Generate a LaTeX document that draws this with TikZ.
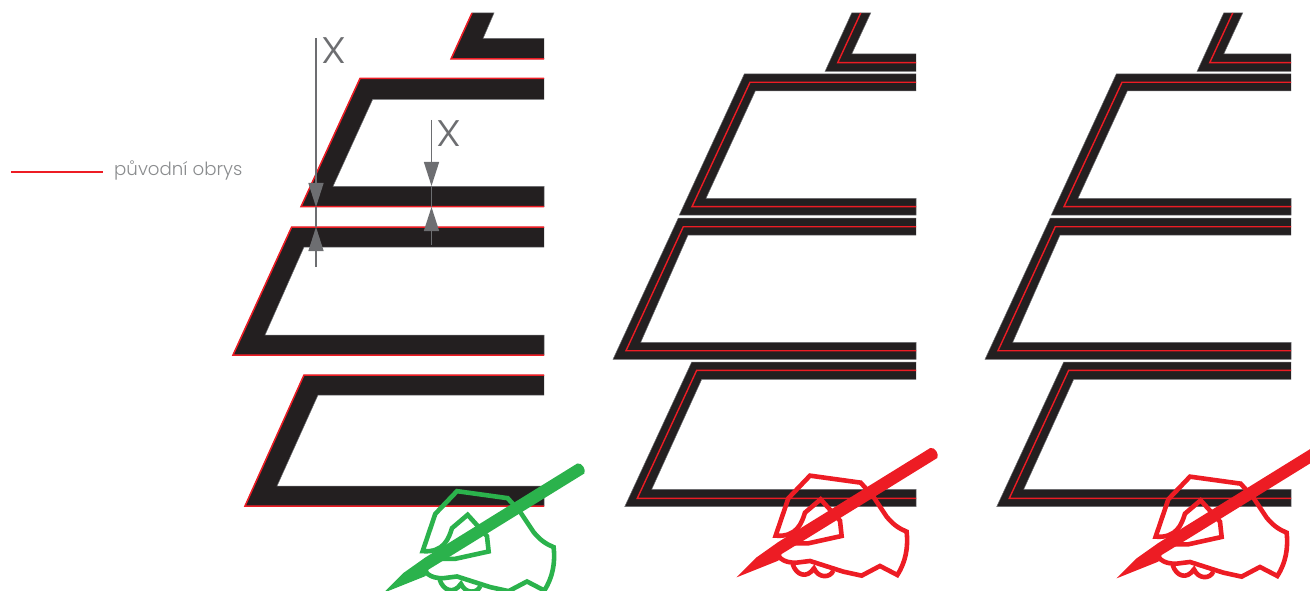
\documentclass[tikz,border=0pt]{standalone}
\usepackage{fontspec}
\setmainfont{Poppins Light}
\usetikzlibrary{arrows.meta}
\definecolor{InkBlack}{HTML}{231F20}
\definecolor{RimRed}{HTML}{ED1C24}
\definecolor{PenGreen}{HTML}{2BB24C}
\definecolor{DimGray}{HTML}{6D6E71}
\definecolor{NoteGray}{HTML}{8A8C8E}
\newcommand{\handpen}[3]{%
\begin{scope}[shift={(#1,#2)},x=.3333pt,y=-.3333pt,color=#3]
\fill (380,742) -- (440,682) -- (505,636) -- (961,354) .. controls (975,351) and (988,372) .. (982,384) -- (600,620) -- (515,672) -- (505,692) -- (440,718) -- cycle;
\draw[line width=4.6pt,line join=miter] (497,617) -- (535,505) -- (600,437) -- (752,458) -- (790,500) -- (830,560) .. controls (850,585) and (870,597) .. (890,605) .. controls (895,650) and (888,695) .. (862,735) -- (810,708) -- (755,737) -- (700,725) -- (600,693) -- (560,698) .. controls (520,700) and (495,680) .. (506,655) .. controls (512,640) and (530,638) .. (545,640) -- (595,640) -- (695,618) -- (690,572) -- (632,508) -- (585,548) .. controls (575,580) and (560,622) .. (497,617) -- cycle;
\draw[line width=4.6pt] (548,702) .. controls (558,735) and (590,748) .. (612,715) .. controls (625,745) and (660,745) .. (670,722);
\end{scope}}
\begin{document}
\begin{tikzpicture}[x=1pt,y=-1pt, bar/.style={fill=InkBlack,draw=DimGray,line width=.5pt}, rim/.style={RimRed,line width=1.5pt}, core/.style={RimRed,line width=1.4pt}, dim/.style={DimGray,line width=1.4pt}, dimtip/.style={dim,-{Triangle[length=24pt,width=15pt]}}, xlabel/.style={DimGray,font=\fontsize{37}{37}\selectfont,inner sep=0pt}]
\clip (0,0) rectangle (1310,591);
\coordinate (notestart) at (11,172);
\node[NoteGray,font=\fontsize{18.2}{20}\selectfont,inner sep=0pt,anchor=base west] (note) at (114,176) {původní obrys};
\draw[RimRed,line width=1.2pt] (notestart) -- (103,172);
\path[bar] (544,38.5) -- (483,38.5) -- (494,13) -- (472,13) -- (451,59) -- (544,59);
\path[bar] (544,99.3) -- (372.7,99.3) -- (333,186.3) -- (544,186.3) -- (544,206.7) -- (301,206.7) -- (360,78.5) -- (544,78.5);
\path[bar] (544,247) -- (304,247) -- (265,335) -- (544,335) -- (544,355) -- (233,355) -- (291.7,227) -- (544,227);
\path[bar] (544,395) -- (318,395) -- (277,486) -- (544,486) -- (544,506) -- (245,506) -- (304,375) -- (544,375);
\draw[rim] (472,13) -- (451,59) -- (544,59);
\draw[rim] (544,78.5) -- (360,78.5) -- (301,206.7) -- (544,206.7);
\draw[rim] (544,227) -- (291.7,227) -- (233,355) -- (544,355);
\draw[rim] (544,375) -- (304,375) -- (245,506) -- (544,506);
\foreach \dx/\xr in {0/916,372/919}{
\begin{scope}[xshift=\dx pt]
\path[bar] (\xr,54) -- (851.7,54) -- (870.7,13) -- (851.7,13) -- (825,71.5) -- (\xr,71.5);
\path[bar] (\xr,91) -- (755.3,91) -- (706,198.3) -- (\xr,198.3) -- (\xr,215) -- (679.3,215) -- (744.3,74) -- (\xr,74);
\path[bar] (\xr,235) -- (688,235) -- (640.7,342.3) -- (\xr,342.3) -- (\xr,359.3) -- (613,359.3) -- (678.3,218) -- (\xr,218);
\path[bar] (\xr,379.3) -- (701.7,379.3) -- (651.7,489.3) -- (\xr,489.3) -- (\xr,506.7) -- (624.7,506.7) -- (691.7,362) -- (\xr,362);
\draw[core] (860.7,13) -- (837.7,62.7) -- (\xr,62.7);
\draw[core] (\xr,82.3) -- (750,82.3) -- (692,206.7) -- (\xr,206.7);
\draw[core] (\xr,226.7) -- (683.3,226.7) -- (626,350.7) -- (\xr,350.7);
\draw[core] (\xr,370.3) -- (696.7,370.3) -- (637.3,498.3) -- (\xr,498.3);
\end{scope}}
\coordinate (longtop) at (316,38);
\coordinate (longdown) at (316,207);
\coordinate (longup) at (316,227);
\coordinate (longend) at (316,267);
\coordinate (shorttop) at (431.5,120);
\coordinate (shortdown) at (431.5,186);
\coordinate (shortup) at (431.5,207);
\coordinate (shortend) at (431.5,245);
\draw[dimtip] (longtop) -- (longdown);
\draw[dimtip] (longend) -- (longup);
\draw[dim] (longdown) -- (longup);
\draw[dimtip] (shorttop) -- (shortdown);
\draw[dimtip] (shortend) -- (shortup);
\draw[dim] (shortdown) -- (shortup);
\node[xlabel,anchor=base] (xlong) at (333.5,64) {\scalebox{1.15}[1]{X}};
\node[xlabel,anchor=base] (xshort) at (448.5,147) {\scalebox{1.15}[1]{X}};
\handpen{257}{345.5}{PenGreen}
\handpen{610}{330}{RimRed}
\handpen{990}{331}{RimRed}
\end{tikzpicture}
\end{document}
